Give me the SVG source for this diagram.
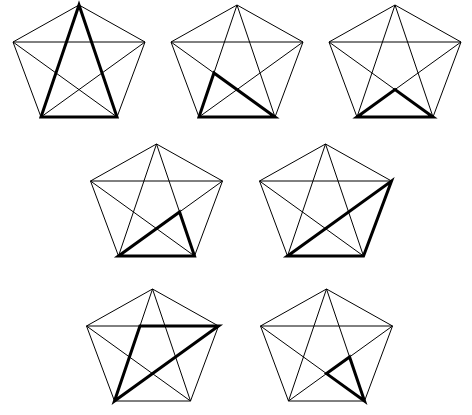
<svg xmlns="http://www.w3.org/2000/svg" xmlns:xlink="http://www.w3.org/1999/xlink" width="472" height="415" viewBox="0 0 472 415">
<style>
.thin{fill:none;stroke:#000;stroke-width:1}
.thick{fill:none;stroke:#000;stroke-width:3;stroke-linejoin:miter}
</style>
<defs>
<g id="k5" class="thin">
<path d="M0,0 L-66,37 L-38,112 L38,112 L66,37 Z"/>
<path d="M0,0 L-38,112 M0,0 L38,112 M-66,37 L66,37 M-66,37 L38,112 M66,37 L-38,112"/>
</g>
</defs>
<rect width="472" height="415" fill="#fff"/>
<g id="fig1" transform="translate(79,5)">
<use href="#k5" xlink:href="#k5"/>
<polygon class="thick" points="0,0 -38,112 38,112"/>
</g>
<g id="fig2" transform="translate(237,5)">
<use href="#k5" xlink:href="#k5"/>
<polygon class="thick" points="-38,112 -23.06,67.96 38,112"/>
</g>
<g id="fig3" transform="translate(395,5)">
<use href="#k5" xlink:href="#k5"/>
<polygon class="thick" points="-38,112 0,84.6 38,112"/>
</g>
<g id="fig4" transform="translate(156.5,144)">
<use href="#k5" xlink:href="#k5"/>
<polygon class="thick" points="-38,112 23.06,67.96 38,112"/>
</g>
<g id="fig5" transform="translate(325.5,144)">
<use href="#k5" xlink:href="#k5"/>
<polygon class="thick" points="-38,112 66,37 38,112"/>
</g>
<g id="fig6" transform="translate(152.5,289)">
<use href="#k5" xlink:href="#k5"/>
<polygon class="thick" points="-38,112 -12.55,37 66,37"/>
</g>
<g id="fig7" transform="translate(326.5,289)">
<use href="#k5" xlink:href="#k5"/>
<polygon class="thick" points="38,112 23.06,67.96 0,84.6"/>
</g>
</svg>
